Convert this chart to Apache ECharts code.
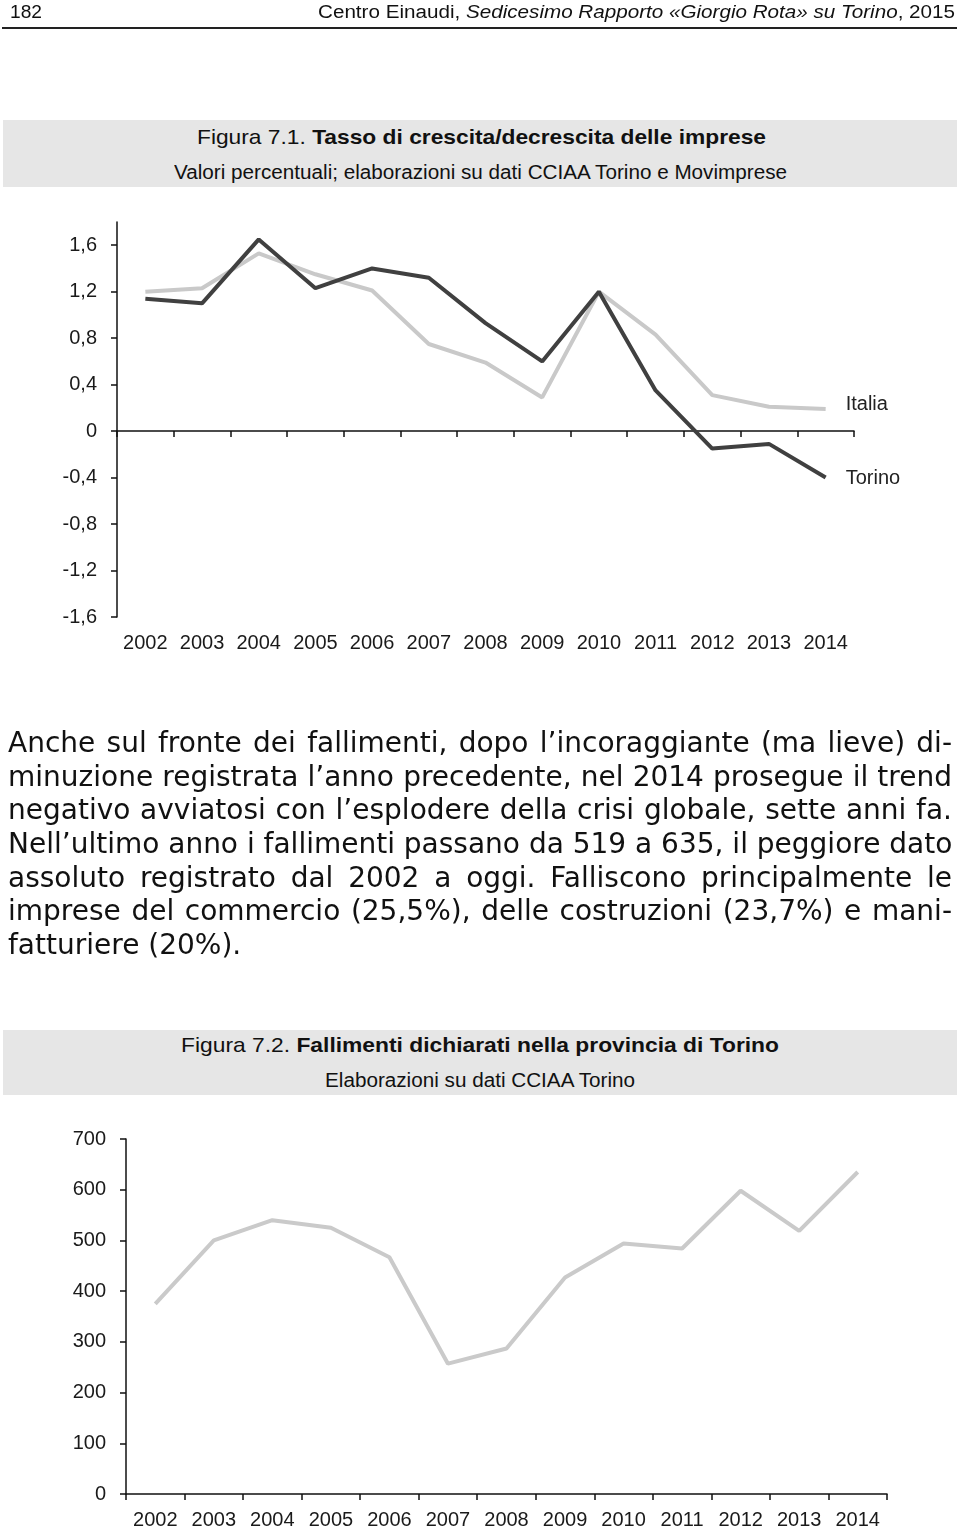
<!DOCTYPE html>
<html>
<head>
<meta charset="utf-8">
<script src="https://cdn.jsdelivr.net/npm/echarts@6/dist/echarts.min.js"></script>
<style>
  html, body { margin:0; padding:0; background:#fff; }
  body { width:960px; height:1531px; position:relative; overflow:hidden; }
  #chart { position:absolute; left:0; top:0; width:960px; height:1531px; }
  .fit { position:absolute; white-space:nowrap; display:inline-block; transform-origin:0 50%;
         font-family:'Liberation Sans',Arial,sans-serif; color:#111; }
  .rule { position:absolute; left:2px; width:955px; top:27px; height:2px; background:#222; }
  .cap { position:absolute; left:3px; width:954px; background:#e6e6e6; }
  #para { position:absolute; left:8px; top:726px; width:944px; font-family:'DejaVu Sans',Verdana,sans-serif; font-size:28px; color:#111; }
  #para div { height:33.7px; line-height:33.7px; white-space:nowrap; text-align:justify; text-align-last:justify; }
  #para div.last { text-align-last:left; }
</style>
</head>
<body>
<div id="chart"></div>
<span class="fit" data-w="32" style="left:10px;top:1px;font-size:18px;line-height:22px;">182</span>
<span class="fit" data-w="637" style="left:318px;top:1px;font-size:18px;line-height:22px;">Centro Einaudi, <i>Sedicesimo Rapporto «Giorgio Rota» su Torino</i>, 2015</span>
<div class="rule"></div>

<div class="cap" style="top:120px;height:67px;"></div>
<span class="fit" data-w="569" style="left:197px;top:123px;font-size:21px;line-height:28px;">Figura 7.1. <b>Tasso di crescita/decrescita delle imprese</b></span>
<span class="fit" data-w="613" style="left:174px;top:159px;font-size:20px;line-height:26px;">Valori percentuali; elaborazioni su dati CCIAA Torino e Movimprese</span>

<div id="para">
  <div>Anche sul fronte dei fallimenti, dopo l’incoraggiante (ma lieve) di-</div>
  <div>minuzione registrata l’anno precedente, nel 2014 prosegue il trend</div>
  <div>negativo avviatosi con l’esplodere della crisi globale, sette anni fa.</div>
  <div>Nell’ultimo anno i fallimenti passano da 519 a 635, il peggiore dato</div>
  <div>assoluto registrato dal 2002 a oggi. Falliscono principalmente le</div>
  <div>imprese del commercio (25,5%), delle costruzioni (23,7%) e mani-</div>
  <div class="last">fatturiere (20%).</div>
</div>

<div class="cap" style="top:1030px;height:65px;"></div>
<span class="fit" data-w="598" style="left:181px;top:1031px;font-size:21px;line-height:28px;">Figura 7.2. <b>Fallimenti dichiarati nella provincia di Torino</b></span>
<span class="fit" data-w="310" style="left:325px;top:1067px;font-size:20px;line-height:26px;">Elaborazioni su dati CCIAA Torino</span>

<script>
// ---- Data ----
const years = ['2002','2003','2004','2005','2006','2007','2008','2009','2010','2011','2012','2013','2014'];
const torino = [1.14, 1.10, 1.65, 1.23, 1.40, 1.32, 0.93, 0.60, 1.20, 0.35, -0.15, -0.11, -0.40];
const italia = [1.20, 1.23, 1.53, 1.35, 1.21, 0.75, 0.59, 0.29, 1.20, 0.83, 0.31, 0.21, 0.19];
const rateTicks = [-1.6, -1.2, -0.8, -0.4, 0, 0.4, 0.8, 1.2, 1.6];
const fallimenti = [375, 500, 540, 525, 467, 257, 287, 427, 494, 484, 598, 519, 635];

// fit HTML text widths
document.querySelectorAll('.fit').forEach(el => {
  const w = el.getBoundingClientRect().width;
  const target = parseFloat(el.dataset.w);
  el.style.transform = 'scaleX(' + (target / w) + ')';
});

const FONT = "'Liberation Sans',Arial,sans-serif";
const axisLineStyle = { color:'#111', width:1.5 };
const lblStyle = { fontFamily: FONT, fontSize:20, color:'#1a1a1a' };

const chart = echarts.init(document.getElementById('chart'), null, { renderer:'canvas' });
chart.setOption({
  animation:false,
  backgroundColor:'transparent',
  grid:[
    { left:117, top:222, width:737, height:395 },
    { left:126, top:1139, width:761, height:355 }
  ],
  xAxis:[
    { type:'category', gridIndex:0, data:years, boundaryGap:true,
      axisLine:{ onZero:true, lineStyle:axisLineStyle },
      axisTick:{ show:true, interval:0, length:6, lineStyle:axisLineStyle },
      axisLabel:{ show:false }, splitLine:{show:false} },
    { type:'category', gridIndex:0, data:years, boundaryGap:true, position:'bottom',
      axisLine:{ show:false, onZero:false }, axisTick:{ show:false },
      axisLabel:Object.assign({ interval:0, margin:16 }, lblStyle), splitLine:{show:false} },
    { type:'category', gridIndex:1, data:years, boundaryGap:true,
      axisLine:{ lineStyle:axisLineStyle },
      axisTick:{ show:true, interval:0, length:6, lineStyle:axisLineStyle },
      axisLabel:Object.assign({ interval:0, margin:16 }, lblStyle), splitLine:{show:false} }
  ],
  yAxis:[
    { type:'value', gridIndex:0, min:-1.6, max:1.8, interval:0.4,
      axisLine:{ show:true, lineStyle:axisLineStyle },
      axisTick:{ show:true, length:6, lineStyle:axisLineStyle, customValues:rateTicks },
      axisLabel:Object.assign({ margin:20, customValues:rateTicks,
        formatter:v => String(Math.round(v*10)/10).replace('.', ',') }, lblStyle),
      splitLine:{show:false} },
    { type:'value', gridIndex:1, min:0, max:700, interval:100,
      axisLine:{ show:true, lineStyle:axisLineStyle },
      axisTick:{ show:true, length:6, lineStyle:axisLineStyle },
      axisLabel:Object.assign({ margin:20 }, lblStyle),
      splitLine:{show:false} }
  ],
  series:[
    { name:'Italia', type:'line', xAxisIndex:0, yAxisIndex:0, data:italia,
      symbol:'none', lineStyle:{ color:'#c9c9c9', width:4 }, itemStyle:{color:'#c9c9c9'},
      endLabel:{ show:true, formatter:'{a}', distance:20, offset:[0,-5], fontFamily:FONT, fontSize:20, color:'#222' } },
    { name:'Torino', type:'line', xAxisIndex:0, yAxisIndex:0, data:torino,
      symbol:'none', lineStyle:{ color:'#404040', width:4 }, itemStyle:{color:'#404040'},
      endLabel:{ show:true, formatter:'{a}', distance:20, offset:[0,1], fontFamily:FONT, fontSize:20, color:'#222' } },
    { name:'Fallimenti', type:'line', xAxisIndex:2, yAxisIndex:1, data:fallimenti,
      symbol:'none', lineStyle:{ color:'#cacaca', width:4 }, itemStyle:{color:'#cacaca'} }
  ]
});
</script>
</body>
</html>
